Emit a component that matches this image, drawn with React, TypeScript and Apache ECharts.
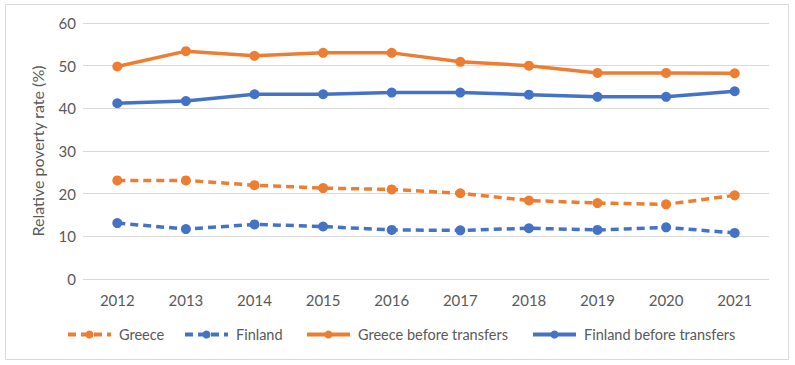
import React, { useEffect, useRef } from "react";
import * as echarts from "echarts";

const years = ["2012", "2013", "2014", "2015", "2016", "2017", "2018", "2019", "2020", "2021"];
const greece = [23.1, 23.1, 22.0, 21.3, 21.0, 20.1, 18.4, 17.8, 17.5, 19.6];
const finland = [13.1, 11.7, 12.8, 12.3, 11.5, 11.4, 11.9, 11.5, 12.1, 10.8];
const greeceBefore = [49.8, 53.4, 52.3, 53.0, 53.0, 50.9, 50.0, 48.3, 48.3, 48.2];
const finlandBefore = [41.2, 41.7, 43.3, 43.3, 43.7, 43.7, 43.2, 42.7, 42.7, 44.0];

const ORANGE = "#ED7D31";
const BLUE = "#4472C4";
const TEXT = "#595959";
const FONT = "Lato, 'Open Sans', sans-serif";

export default function App() {
  const ref = useRef<HTMLDivElement>(null);
  useEffect(() => {
    if (!ref.current) return;
    const chart = echarts.init(ref.current, undefined, { renderer: "svg" });
    const mk = (name: string, data: number[], color: string, dashed: boolean) => ({
      name,
      type: "line",
      data,
      symbol: "circle",
      symbolSize: 10,
      itemStyle: { color },
      lineStyle: { color, width: 3.5, type: dashed ? [8, 5] : "solid" },
    });
    const legendItem = (name: string, left: number) => ({
      data: [name],
      left,
      top: 327,
      padding: 0,
      itemWidth: 43,
      itemHeight: 10,
      itemGap: 0,
      lineStyle: { width: 4 },
      textStyle: { color: TEXT, fontSize: 14.5, fontFamily: FONT, padding: [0, 0, 0, 3] },
    });
    chart.setOption({
      animation: false,
      textStyle: { fontFamily: FONT },
      graphic: [
        {
          type: "rect",
          shape: { x: 5.5, y: 4.5, width: 783, height: 355 },
          style: { fill: "none", stroke: "#d9d9d9", lineWidth: 1 },
          silent: true,
        },
      ],
      grid: { left: 83, right: 26, top: 23, bottom: 86 },
      legend: [
        legendItem("Greece", 66),
        legendItem("Finland", 183),
        legendItem("Greece before transfers", 305),
        legendItem("Finland before transfers", 531),
      ],
      xAxis: {
        type: "category",
        data: years,
        boundaryGap: true,
        axisLine: { show: false },
        axisTick: { show: false },
        axisLabel: { color: TEXT, fontSize: 15, fontFamily: FONT, margin: 13 },
      },
      yAxis: {
        type: "value",
        min: 0,
        max: 60,
        interval: 10,
        name: "Relative poverty rate (%)",
        nameLocation: "middle",
        nameGap: 38,
        nameTextStyle: { color: TEXT, fontSize: 16, fontFamily: FONT },
        axisLabel: { color: TEXT, fontSize: 15, fontFamily: FONT, margin: 7 },
        splitLine: { lineStyle: { color: "#d9d9d9", width: 1 } },
        axisLine: { show: false },
        axisTick: { show: false },
      },
      series: [
        mk("Greece", greece, ORANGE, true),
        mk("Finland", finland, BLUE, true),
        mk("Greece before transfers", greeceBefore, ORANGE, false),
        mk("Finland before transfers", finlandBefore, BLUE, false),
      ],
    });
    return () => chart.dispose();
  }, []);
  return (
    <div
      ref={ref}
      style={{ position: "fixed", left: 0, top: 0, width: 795, height: 365, background: "#fff" }}
    />
  );
}
